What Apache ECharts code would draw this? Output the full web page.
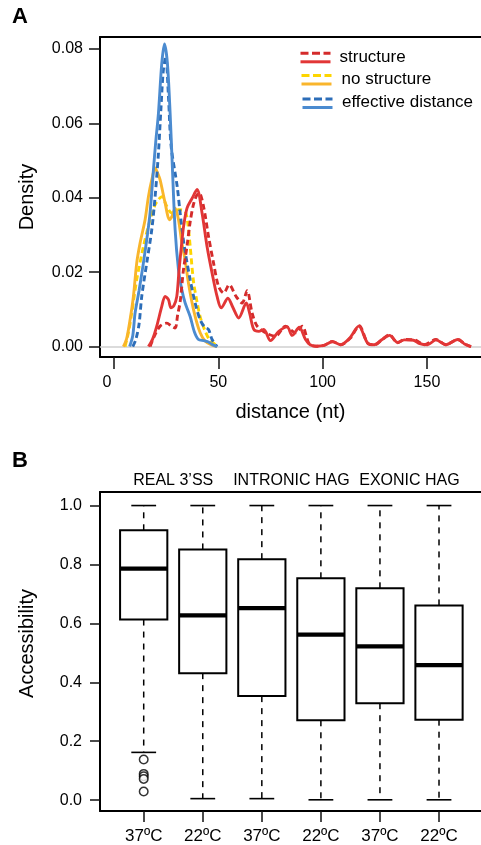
<!DOCTYPE html>
<html>
<head>
<meta charset="utf-8">
<script src="https://cdn.jsdelivr.net/npm/echarts@6/dist/echarts.min.js"></script>
<style>
html,body{margin:0;padding:0;background:#fff;}
#chart{width:481px;height:845px;}
</style>
</head>
<body>
<div id="chart"></div>
<script>
// ---------- Panel A: density curves ([distance, density]) ----------
const structureSolid = [[16.5,0],[18.5,0.002],[20.5,0.0055],[22.9,0.0108],[24.5,0.0135],[26.1,0.0126],[27.3,0.0104],[28.7,0.011],[30.1,0.0135],[31.2,0.0207],[32.5,0.028],[33.4,0.0325],[35,0.0372],[37.4,0.0398],[39.8,0.0422],[42.2,0.0359],[44.6,0.0269],[47,0.0198],[49.4,0.0135],[51.4,0.0104],[54.6,0.013],[57,0.0105],[59.8,0.0077],[63.4,0.0117],[65,0.009],[67,0.0046],[69.4,0.0041],[71.8,0.0046],[75,0.0016],[79,0.0041],[83,0.0053],[85.4,0.003],[88.8,0.0052],[91.8,0.0019],[94,0.0005],[97,0.0001],[100.6,0.0003],[104.6,0.0013],[108.7,0.0005],[113,0.0023],[117.3,0.0055],[121.5,0.001],[124.7,0.0005],[128.5,0.0019],[132.1,0.003],[135.9,0.0011],[139.1,0.0018],[143.5,0.0017],[146.5,0.0008],[150.3,0.0005],[154.3,0.0018],[159.1,0.0005],[164.8,0.0019],[168,0.0007],[171,0]];
const structureDashed = [[17.3,0],[19.5,0.003],[22.1,0.0055],[25.3,0.0063],[27.5,0.0055],[29.3,0.005],[30.5,0.0085],[31.7,0.012],[33.3,0.0207],[35,0.027],[36.5,0.0335],[38,0.038],[39.5,0.0405],[40.8,0.0413],[42.9,0.0377],[45.3,0.0296],[47.7,0.0225],[50.1,0.0162],[52.6,0.0144],[55.2,0.0166],[58.5,0.0135],[61.4,0.0117],[63.8,0.015],[66.2,0.009],[68.6,0.0055],[72.6,0.0037],[77.4,0.0028],[82.2,0.0055],[87,0.0037],[90.2,0.0055],[93.5,0.0008],[97,0.0001],[100.6,0.0003],[104.6,0.0014],[108.7,0.0005],[113.3,0.0023],[117.5,0.0056],[122,0.0007],[125,0.0005],[128.7,0.002],[132,0.0032],[135.9,0.001],[139.1,0.0019],[143.9,0.0018],[148.7,0.0005],[154.3,0.0019],[159.1,0.0005],[164.8,0.0019],[168.5,0.0006],[171.2,0]];
const noStructureSolid = [[4.5,0],[6,0.002],[7.7,0.0072],[9.3,0.0135],[10.9,0.0225],[12.5,0.0278],[14.9,0.0341],[16.5,0.0403],[18.1,0.0448],[19.7,0.048],[21,0.0465],[22.1,0.0448],[24.5,0.0386],[26.6,0.0341],[27.8,0.035],[29.3,0.0372],[30.9,0.0341],[32.5,0.028],[34,0.0235],[36,0.016],[38.5,0.009],[41.3,0.0037],[43.8,0.0014],[46.5,0.0005],[49.4,0]];
const noStructureDashed = [[5.3,0],[7,0.004],[8.5,0.009],[10.9,0.018],[14.1,0.0269],[17.3,0.0341],[19.7,0.0381],[21.3,0.0395],[22.9,0.0403],[25.3,0.0377],[27.7,0.0359],[30.9,0.0368],[34.1,0.0363],[35.4,0.033],[36.5,0.027],[38.1,0.0175],[39.8,0.012],[41.3,0.008],[43.8,0.004],[46,0.0017],[50,0]];
const effectiveSolid = [[7.5,0],[9,0.003],[10.1,0.009],[12,0.015],[14.1,0.0225],[16,0.03],[17.3,0.036],[18.9,0.0475],[20,0.055],[21.3,0.0627],[22.9,0.0761],[24.2,0.0813],[25.6,0.0761],[26.9,0.0627],[27.9,0.0493],[29.3,0.0314],[30.9,0.0207],[32.5,0.0153],[34.1,0.0117],[36.5,0.0081],[38.5,0.004],[40.5,0.0019],[43,0.0016],[45,0.0013],[47,0.0006],[49.4,0]];
const effectiveDashed = [[9,0],[10.5,0.002],[12,0.006],[13.3,0.0135],[15.7,0.0225],[18.1,0.0314],[19.7,0.0403],[21.3,0.052],[22.5,0.064],[23.6,0.074],[24.8,0.078],[26.1,0.0672],[27.4,0.0538],[30.3,0.043],[31.7,0.0359],[33.7,0.0269],[36.5,0.018],[38.9,0.0117],[41.3,0.0072],[43.5,0.0052],[45.3,0.0046],[47,0.0019],[49.4,0]];
const densityTicks = [0, 0.02, 0.04, 0.06, 0.08];
const distanceTicks = [0, 50, 100, 150];
const legendLabels = ['structure', 'no structure', 'effective distance'];

// ---------- Panel B: accessibility boxplots ----------
const groupLabels = ['REAL 3\u2019SS', 'INTRONIC HAG', 'EXONIC HAG'];
const tempLabels = ['37\u00baC', '22\u00baC', '37\u00baC', '22\u00baC', '37\u00baC', '22\u00baC'];
const boxMin    = [0.162, 0.005, 0.005, 0.001, 0.001, 0.001];
const boxQ1     = [0.613, 0.431, 0.353, 0.271, 0.329, 0.273];
const boxMedian = [0.786, 0.627, 0.652, 0.562, 0.522, 0.458];
const boxQ3     = [0.916, 0.851, 0.818, 0.753, 0.719, 0.661];
const boxMax    = [1.0, 1.0, 1.0, 1.0, 1.0, 1.0];
const outliersBox1 = [0.138, 0.089, 0.081, 0.072, 0.029];
const accessTicks = [0, 0.2, 0.4, 0.6, 0.8, 1.0];

const FONT = "'Liberation Sans', Arial, Helvetica, sans-serif";
const C = {
  redS: '#e23636', redD: '#d42b2b',
  orgS: '#f9b52c', yelD: '#fdd500',
  bluS: '#4b8bd0', bluD: '#2c6db8'
};

const chart = echarts.init(document.getElementById('chart'), null, {renderer: 'canvas'});

function densSeries(name, data, color, dashed, z) {
  return {
    name: name, type: 'line', xAxisIndex: 0, yAxisIndex: 0,
    data: data, smooth: 0.3, symbol: 'none', z: z,
    lineStyle: {color: color, width: 2.9, type: dashed ? [6, 3.5] : 'solid', cap: 'butt'},
    silent: true
  };
}

const boxData = boxMin.map((v, i) => [i + 1, boxMin[i], boxQ1[i], boxMedian[i], boxQ3[i], boxMax[i]]);

function renderBox(params, api) {
  const x = api.value(0);
  const pMin = api.coord([x, api.value(1)]);
  const pQ1 = api.coord([x, api.value(2)]);
  const pMed = api.coord([x, api.value(3)]);
  const pQ3 = api.coord([x, api.value(4)]);
  const pMax = api.coord([x, api.value(5)]);
  const half = api.size([0.8, 0])[0] / 2;
  const cap = api.size([0.42, 0])[0] / 2;
  const cx = pMed[0];
  const dash = {stroke: '#000', lineWidth: 1.5, lineDash: [6, 6]};
  const solid = {stroke: '#000', lineWidth: 1.6};
  return {
    type: 'group',
    children: [
      {type: 'line', shape: {x1: cx, y1: pQ3[1], x2: cx, y2: pMax[1]}, style: dash},
      {type: 'line', shape: {x1: cx, y1: pQ1[1], x2: cx, y2: pMin[1]}, style: dash},
      {type: 'line', shape: {x1: cx - cap, y1: pMax[1], x2: cx + cap, y2: pMax[1]}, style: solid},
      {type: 'line', shape: {x1: cx - cap, y1: pMin[1], x2: cx + cap, y2: pMin[1]}, style: solid},
      {type: 'rect', shape: {x: cx - half, y: pQ3[1], width: 2 * half, height: pQ1[1] - pQ3[1]},
        style: {fill: '#fff', stroke: '#000', lineWidth: 2}},
      {type: 'line', shape: {x1: cx - half, y1: pMed[1], x2: cx + half, y2: pMed[1]},
        style: {stroke: '#000', lineWidth: 4.2}}
    ]
  };
}

const axisLineStyle = {show: true, onZero: false, lineStyle: {color: '#000', width: 2}};
const tickStyle = {color: '#111', width: 1.5};
const labelBase = {color: '#000', fontFamily: FONT};

// legend built from graphic elements
const legendRows = [
  {dash: C.redD, solid: C.redS, x: 300.5, y: 53.3, tx: 339.5, ty: 57},
  {dash: C.yelD, solid: C.orgS, x: 301.5, y: 75.5, tx: 341.5, ty: 79.5},
  {dash: C.bluD, solid: C.bluS, x: 302.5, y: 99, tx: 342, ty: 102.5}
];
const legendGraphics = [];
legendRows.forEach((r, i) => {
  legendGraphics.push({type: 'line', shape: {x1: r.x, y1: r.y, x2: r.x + 30, y2: r.y},
    style: {stroke: r.dash, lineWidth: 3, lineDash: [8, 3.5]}, silent: true});
  legendGraphics.push({type: 'line', shape: {x1: r.x, y1: r.y + 8.5, x2: r.x + 30, y2: r.y + 8.5},
    style: {stroke: r.solid, lineWidth: 3}, silent: true});
  legendGraphics.push({type: 'text', x: r.tx, y: r.ty,
    style: {text: legendLabels[i], fill: '#000', font: '17px ' + FONT, textVerticalAlign: 'middle'}, silent: true});
});

const option = {
  animation: false,
  backgroundColor: '#fff',
  textStyle: {fontFamily: FONT},
  graphic: [
    {type: 'text', x: 12, y: 6, style: {text: 'A', fill: '#000', font: 'bold 22px ' + FONT, textVerticalAlign: 'top'}},
    {type: 'text', x: 12, y: 450, style: {text: 'B', fill: '#000', font: 'bold 22px ' + FONT, textVerticalAlign: 'top'}}
  ].concat(legendGraphics),
  grid: [
    {left: 100, right: 0, top: 37, height: 320},
    {left: 100, right: 0, top: 492, height: 322}
  ],
  xAxis: [
    {
      gridIndex: 0, type: 'value', position: 'bottom', min: -6.71, max: 175.9,
      axisLine: axisLineStyle,
      axisTick: {show: true, customValues: distanceTicks, length: 12, lineStyle: tickStyle},
      axisLabel: Object.assign({customValues: distanceTicks, fontSize: 16, margin: 18,
        formatter: v => (v === 0 ? '{z|0}' : String(v)),
        rich: {z: {fontSize: 16, fontFamily: FONT, color: '#000', padding: [0, 14, 0, 0]}}}, labelBase),
      splitLine: {show: false},
      name: 'distance (nt)', nameLocation: 'middle', nameGap: 45,
      nameTextStyle: {fontSize: 20, color: '#000', fontFamily: FONT}
    },
    {
      gridIndex: 0, type: 'value', position: 'top', min: -6.71, max: 175.9,
      axisLine: axisLineStyle, axisTick: {show: false}, axisLabel: {show: false}, splitLine: {show: false}
    },
    {
      gridIndex: 1, type: 'value', position: 'bottom', min: 0.26, max: 6.711,
      axisLine: axisLineStyle,
      axisTick: {show: true, customValues: [1, 2, 3, 4, 5, 6], length: 11, lineStyle: tickStyle},
      axisLabel: Object.assign({customValues: [1, 2, 3, 4, 5, 6], fontSize: 17, margin: 17,
        formatter: v => tempLabels[Math.round(v) - 1]}, labelBase),
      splitLine: {show: false}
    },
    {
      gridIndex: 1, type: 'value', position: 'top', min: 0.26, max: 6.711,
      axisLine: axisLineStyle, axisTick: {show: false},
      axisLabel: Object.assign({customValues: [1.5, 3.5, 5.5], fontSize: 16, margin: 3,
        formatter: v => groupLabels[Math.round((v - 1.5) / 2)]}, labelBase),
      splitLine: {show: false}
    }
  ],
  yAxis: [
    {
      gridIndex: 0, type: 'value', min: -0.0028, max: 0.0832,
      axisLine: axisLineStyle,
      axisTick: {show: true, customValues: densityTicks, length: 11, lineStyle: tickStyle},
      axisLabel: Object.assign({customValues: densityTicks, fontSize: 16, margin: 17,
        formatter: v => v.toFixed(2)}, labelBase),
      splitLine: {show: false},
      name: 'Density', nameLocation: 'middle', nameGap: 63,
      nameTextStyle: {fontSize: 20, color: '#000', fontFamily: FONT}
    },
    {
      gridIndex: 1, type: 'value', min: -0.037, max: 1.046,
      axisLine: axisLineStyle,
      axisTick: {show: true, customValues: accessTicks, length: 10, lineStyle: tickStyle},
      axisLabel: Object.assign({customValues: accessTicks, fontSize: 16, margin: 18,
        formatter: v => v.toFixed(1)}, labelBase),
      splitLine: {show: false},
      name: 'Accessibility', nameLocation: 'middle', nameGap: 63,
      nameTextStyle: {fontSize: 20, color: '#000', fontFamily: FONT, padding: [0, 0, 0, 16]}
    }
  ],
  series: [
    Object.assign(densSeries('no structure (dashed)', noStructureDashed, C.yelD, true, 2), {
      markLine: {silent: true, symbol: 'none', label: {show: false},
        lineStyle: {color: '#cfcfcf', width: 1.5, type: 'solid'}, data: [{yAxis: 0}], z: 1}
    }),
    densSeries('no structure', noStructureSolid, C.orgS, false, 3),
    densSeries('effective distance (dashed)', effectiveDashed, C.bluD, true, 4),
    densSeries('effective distance', effectiveSolid, C.bluS, false, 5),
    densSeries('structure (dashed)', structureDashed, C.redD, true, 6),
    densSeries('structure', structureSolid, C.redS, false, 7),
    {
      name: 'accessibility', type: 'custom', xAxisIndex: 2, yAxisIndex: 1,
      data: boxData, encode: {x: 0, y: [1, 2, 3, 4, 5]}, renderItem: renderBox, silent: true
    },
    {
      name: 'outliers', type: 'scatter', xAxisIndex: 2, yAxisIndex: 1,
      data: outliersBox1.map(v => [1, v]), symbol: 'circle', symbolSize: 8.5,
      itemStyle: {color: '#fff', borderColor: '#000', borderWidth: 1.5}, silent: true
    }
  ]
};
chart.setOption(option);
</script>
</body>
</html>
